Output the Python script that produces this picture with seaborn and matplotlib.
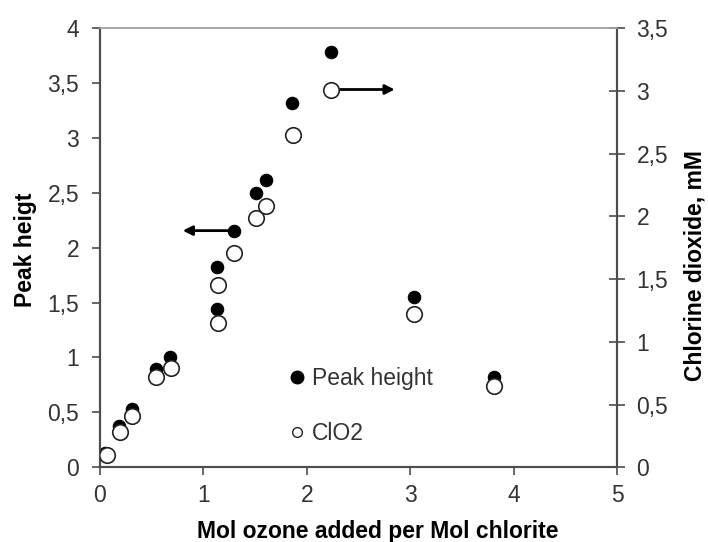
import matplotlib
matplotlib.use("Agg")
import matplotlib.pyplot as plt
import seaborn as sns
import pandas as pd
from matplotlib.lines import Line2D

sns.set_theme(style="white")
plt.rcParams['font.family'] = ['Liberation Sans', 'DejaVu Sans']

x_peak = [0.05, 0.18, 0.31, 0.54, 0.68, 1.135, 1.135, 1.30, 1.51, 1.61, 1.86, 2.23, 3.04, 3.81]
peak_height = [0.13, 0.38, 0.53, 0.895, 1.0, 1.44, 1.82, 2.155, 2.50, 2.62, 3.315, 3.785, 1.554, 0.82]
x_clo2 = [0.065, 0.19, 0.31, 0.54, 0.69, 1.145, 1.145, 1.30, 1.51, 1.61, 1.87, 2.235, 3.04, 3.81]
clo2_mM = [0.10, 0.28, 0.41, 0.717, 0.79, 1.147, 1.45, 1.71, 1.99, 2.085, 2.65, 3.01, 1.22, 0.648]

x_ticks = [0, 1, 2, 3, 4, 5]
left_ticks = [0, 0.5, 1, 1.5, 2, 2.5, 3, 3.5, 4]
right_ticks = [0, 0.5, 1, 1.5, 2, 2.5, 3, 3.5]

df_peak = pd.DataFrame({"x": x_peak, "y": peak_height})
df_clo2 = pd.DataFrame({"x": x_clo2, "y": clo2_mM})

fig = plt.figure(figsize=(7.08, 5.42), dpi=100)
ax = fig.add_axes([100/708, 1-467.3/542, 517/708, (467.3-28)/542])
ax2 = ax.twinx()

dark = "#4d4d4d"
txt = "#333333"
fs = 16.5

sns.scatterplot(data=df_peak, x="x", y="y", ax=ax, color="black", s=80,
                edgecolor="black", linewidth=0.8, zorder=3, legend=False)
sns.scatterplot(data=df_clo2, x="x", y="y", ax=ax2, color="white", s=125,
                edgecolor="#222222", linewidth=1.2, zorder=3, legend=False)

ax.set_xlim(0, 5)
ax.set_ylim(0, 4)
ax2.set_ylim(0, 3.5)

def fmt(v):
    return ("%g" % v).replace(".", ",")

ax.set_xticks(x_ticks)
ax.set_xticklabels([fmt(v) for v in x_ticks])
ax.set_yticks(left_ticks)
ax.set_yticklabels([fmt(v) for v in left_ticks])
ax2.set_yticks(right_ticks)
ax2.set_yticklabels([fmt(v) for v in right_ticks])

ax.tick_params(axis="x", direction="out", length=6, width=1.2, color=dark,
               labelsize=fs, labelcolor=txt, pad=6, bottom=True)
ax.tick_params(axis="y", direction="out", length=6, width=1.2, color=dark,
               labelsize=fs, labelcolor=txt, pad=9, left=True)
ax2.tick_params(axis="y", direction="inout", length=12, width=1.2, color=dark,
                labelsize=fs, labelcolor=txt, pad=8, right=True)

for a in (ax, ax2):
    for side in ("left", "bottom", "right"):
        a.spines[side].set_color(dark)
        a.spines[side].set_linewidth(1.5)
    a.spines["top"].set_color("#a6a6a6")
    a.spines["top"].set_linewidth(1.2)

ax.set_xlabel("Mol ozone added per Mol chlorite", fontsize=fs, fontweight="bold",
              color="black")
ax.set_ylabel("Peak heigt", fontsize=fs, fontweight="bold", color="black")
ax2.set_ylabel("Chlorine dioxide, mM", fontsize=fs, fontweight="bold", color="black")
ax.xaxis.set_label_coords(0.538, -0.12)
ax.yaxis.set_label_coords(-0.122, 0.495)
ax2.yaxis.set_label_coords(1.128, 0.46)

# arrows
ax.annotate("", xy=(0.80, peak_height[7]), xytext=(x_peak[7], peak_height[7]),
            arrowprops=dict(arrowstyle="-|>", color="black", lw=2,
                            mutation_scale=14, shrinkA=0, shrinkB=0), zorder=2)
ax2.annotate("", xy=(2.85, clo2_mM[11]), xytext=(x_clo2[11], clo2_mM[11]),
             arrowprops=dict(arrowstyle="-|>", color="black", lw=2,
                             mutation_scale=14, shrinkA=0, shrinkB=0), zorder=2)

handles = [
    Line2D([], [], marker="o", linestyle="", markerfacecolor="black",
           markeredgecolor="black", markersize=9, label="Peak height"),
    Line2D([], [], marker="o", linestyle="", markerfacecolor="white",
           markeredgecolor="#222222", markeredgewidth=1.0, markersize=7, label="ClO2"),
]
leg = ax2.legend(handles=handles, loc="upper left", frameon=False, fontsize=fs,
                 handlelength=0.6, handletextpad=0.35, labelspacing=1.4,
                 bbox_to_anchor=(290/708, 1-367/542), bbox_transform=fig.transFigure,
                 borderpad=0, borderaxespad=0)
for t in leg.get_texts():
    t.set_color(txt)

fig.savefig("out.png", dpi=100)
